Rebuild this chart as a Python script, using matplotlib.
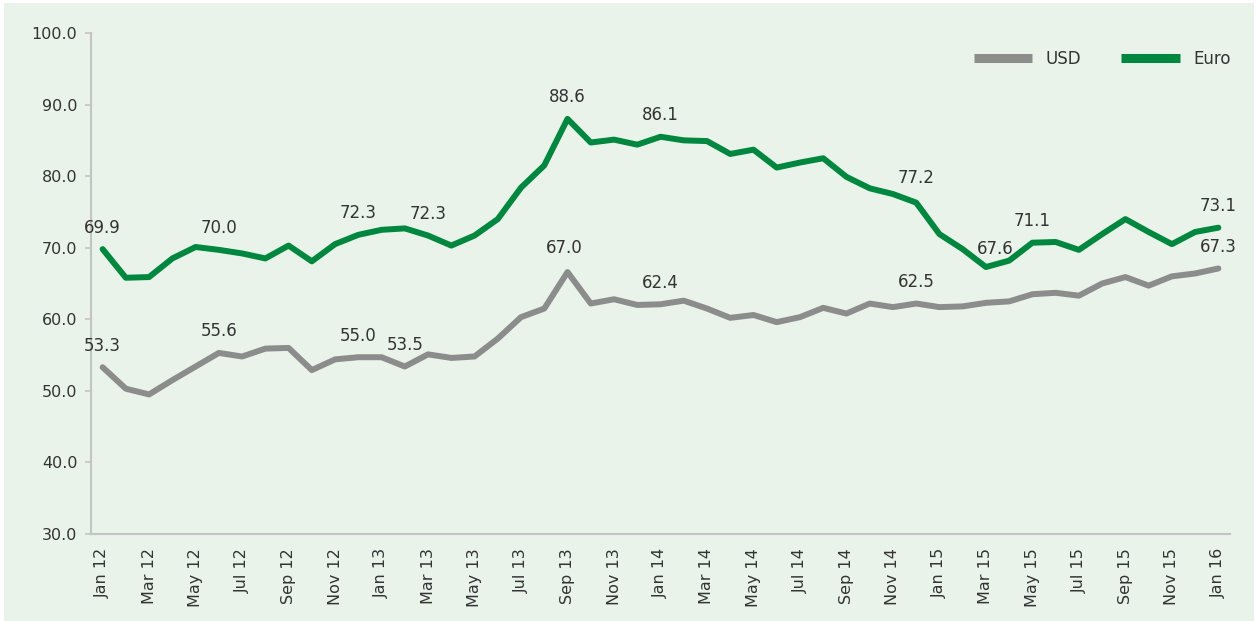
import matplotlib
matplotlib.use("Agg")
import matplotlib.pyplot as plt
from matplotlib.lines import Line2D
from matplotlib.patches import Rectangle

# ---------------- data ----------------
tick_labels = ["Jan 12", "Mar 12", "May 12", "Jul 12", "Sep 12", "Nov 12",
               "Jan 13", "Mar 13", "May 13", "Jul 13", "Sep 13", "Nov 13",
               "Jan 14", "Mar 14", "May 14", "Jul 14", "Sep 14", "Nov 14",
               "Jan 15", "Mar 15", "May 15", "Jul 15", "Sep 15", "Nov 15",
               "Jan 16"]

euro = [69.8, 65.8, 65.9, 68.5, 70.1, 69.7, 69.2, 68.5, 70.3, 68.1,
        70.5, 71.8, 72.5, 72.7, 71.7, 70.3, 71.7, 74.0, 78.4, 81.5,
        88.0, 84.7, 85.1, 84.4, 85.5, 85.0, 84.9, 83.1, 83.7, 81.2,
        81.9, 82.5, 79.9, 78.3, 77.5, 76.3, 71.9, 69.8, 67.3, 68.2,
        70.7, 70.8, 69.7, 71.9, 74.0, 72.2, 70.5, 72.2, 72.8]

usd = [53.3, 50.3, 49.5, 51.5, 53.4, 55.3, 54.8, 55.9, 56.0, 52.9,
       54.4, 54.7, 54.7, 53.4, 55.1, 54.6, 54.8, 57.3, 60.3, 61.5,
       66.6, 62.2, 62.8, 62.0, 62.1, 62.6, 61.5, 60.2, 60.6, 59.6,
       60.3, 61.6, 60.8, 62.2, 61.7, 62.2, 61.7, 61.8, 62.3, 62.5,
       63.5, 63.7, 63.3, 65.0, 65.9, 64.7, 66.0, 66.4, 67.1]

euro_label_idx = [0, 5, 11, 14, 20, 24, 35, 38, 40, 48]
euro_label_txt = ["69.9", "70.0", "72.3", "72.3", "88.6", "86.1", "77.2",
                  "67.6", "71.1", "73.1"]
usd_label_idx = [0, 5, 11, 13, 20, 24, 35, 48]
usd_label_txt = ["53.3", "55.6", "55.0", "53.5", "67.0", "62.4", "62.5", "67.3"]

series_names = ["USD", "Euro"]

# ---------------- style ----------------
W, H = 1256, 621
GREEN = "#00873F"
GREY = "#8C8C8C"
BG = "#E9F3EA"
TXT = "#333333"
AX = "#C4C4C4"

fig = plt.figure(figsize=(W / 100, H / 100), dpi=100, facecolor="white")
fig.patches.append(Rectangle((4 / W, 0 / H), (W - 6) / W, (H - 3) / H,
                             transform=fig.transFigure, facecolor=BG,
                             edgecolor="none", zorder=-10))

left, right, top, bottom = 91, 1230, 33, 534
ax = fig.add_axes([left / W, 1 - bottom / H, (right - left) / W, (bottom - top) / H])
ax.set_facecolor("none")
ax.set_zorder(2)

x = list(range(len(euro)))
lw = 4.3
ax.plot(x, usd, color=GREY, lw=lw, solid_joinstyle="round", solid_capstyle="round", zorder=3)
ax.plot(x, euro, color=GREEN, lw=lw, solid_joinstyle="round", solid_capstyle="round", zorder=3)

ax.set_xlim(-0.5, len(euro) - 0.5)
ax.set_ylim(30, 100)
ax.set_yticks(range(30, 101, 10))
ax.set_yticklabels([f"{v:.1f}" for v in range(30, 101, 10)])
ax.set_xticks(range(0, len(euro), 2))
ax.set_xticklabels(tick_labels, rotation=90, va="top", ha="center")

for s in ["top", "right"]:
    ax.spines[s].set_visible(False)
for s in ["left", "bottom"]:
    ax.spines[s].set_color(AX)
    ax.spines[s].set_linewidth(1.5)

ax.tick_params(axis="y", length=4.3, width=1.2, color=AX, pad=5.5,
               labelsize=11.5, labelcolor=TXT)
ax.tick_params(axis="x", length=0, pad=10, labelsize=11.5, labelcolor=TXT)

# data labels
def put_labels(series, idxs, txts, special=None):
    special = special or {}
    for i, t in zip(idxs, txts):
        dx, dy = special.get(t, (0, 15.5))
        ax.annotate(t, xy=(i, series[i]), xytext=(dx, dy), textcoords="offset points",
                    ha="center", va="center", fontsize=12, color=TXT, zorder=4)

put_labels(euro, euro_label_idx, euro_label_txt, {"67.6": (7, 13), "77.2": (0, 17.5)})
put_labels(usd, usd_label_idx, usd_label_txt, {"67.0": (-2, 17.5)})

# legend
handles = [Line2D([], [], color=GREY, lw=6.5, solid_capstyle="butt"),
           Line2D([], [], color=GREEN, lw=6.5, solid_capstyle="butt")]
leg = fig.legend(handles, series_names, loc="center left",
                 bbox_to_anchor=(974 / W, 1 - 59 / H), ncol=2, frameon=False,
                 fontsize=12, handlelength=3.5, handletextpad=0.8,
                 columnspacing=2.4, borderpad=0, borderaxespad=0)
for t in leg.get_texts():
    t.set_color(TXT)

fig.savefig("out.png", dpi=100, facecolor="white")
